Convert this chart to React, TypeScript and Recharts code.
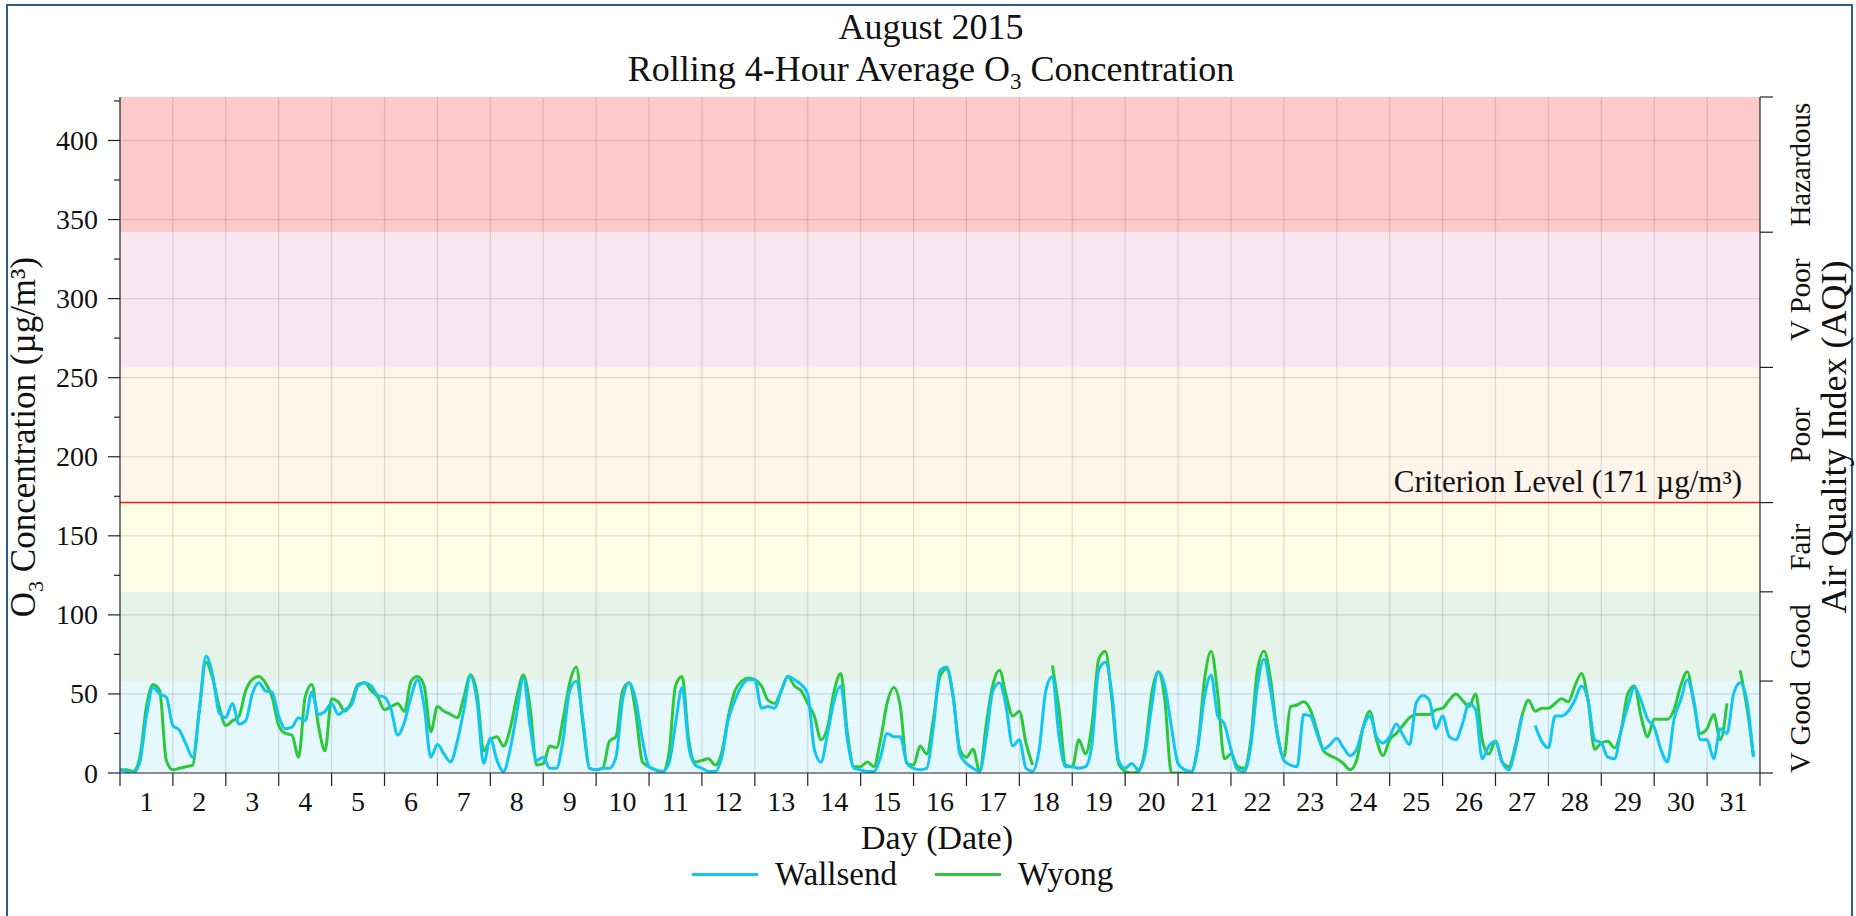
import { LineChart, Line, XAxis, YAxis, ReferenceArea, ReferenceLine } from "recharts";

const FONT = "'Liberation Serif', 'Times New Roman', serif";
const W = 1856;
const H = 916;
// plot box edges in page pixels
const PL = 120;
const PR = 1760;
const PT = 97;
const PB = 773;
const DAY_PX = (PR - PL) / 31;

// rolling 4-hour averages, read every 3 hours (8 per day), µg/m³
const STEP = 3;
const wallsend: (number | null)[] = [
  2, 1, 0, 7, 36, 54, 50, 48,
  30, 27, 18, 10, 40, 74, 62, 38,
  35, 44, 31, 33, 50, 57, 52, 51,
  36, 28, 29, 35, 33, 51, 37, 39,
  44, 37, 40, 43, 55, 57, 55, 49,
  48, 40, 24, 32, 48, 59, 42, 10,
  18, 12, 7, 20, 40, 61, 45, 6,
  22, 8, 1, 15, 38, 60, 30, 8,
  10, 3, 3, 21, 52, 58, 34, 3,
  2, 3, 3, 10, 46, 57, 46, 21,
  4, 2, 1, 6, 31, 54, 17, 5,
  3, 1, 1, 10, 34, 46, 55, 59,
  59, 41, 42, 41, 52, 61, 59, 56,
  50, 15, 7, 25, 46, 55, 21, 3,
  2, 1, 1, 10, 25, 23, 23, 6,
  3, 2, 3, 29, 65, 67, 48, 12,
  6, 3, 1, 23, 52, 57, 42, 17,
  21, 3, 1, 15, 52, 61, 23, 4,
  4, 3, 4, 19, 65, 70, 50, 8,
  3, 6, 2, 12, 42, 64, 55, 29,
  6, 2, 1, 17, 48, 62, 36, 31,
  15, 2, 1, 17, 55, 72, 52, 25,
  8, 5, 4, 37, 36, 25, 15, 18,
  22, 16, 11, 15, 29, 36, 23, 19,
  23, 31, 24, 18, 44, 49, 46, 28,
  36, 23, 21, 31, 44, 40, 9, 17,
  20, 7, 2, 15, 36, null, 30, 20,
  16, 36, 36, 39, 46, 55, 46, 21,
  19, 10, 9, 27, 42, 54, 46, 34,
  29, 15, 7, 34, 46, 59, 46, 21,
  21, 9, 28, 25, 50, 57, 46, 10,
];
const wyong: (number | null)[] = [
  2, 2, 1, 10, 42, 56, 52, 8,
  2, 3, 4, 5, 40, 70, 60, 42,
  30, 33, 36, 52, 59, 61, 57, 48,
  30, 25, 24, 10, 48, 56, 30, 14,
  47, 45, 39, 45, 56, 57, 52, 48,
  40, 42, 44, 39, 58, 61, 55, 26,
  42, 39, 37, 35, 48, 62, 50, 14,
  21, 23, 17, 28, 48, 62, 42, 5,
  6, 17, 16, 34, 57, 67, 31, 3,
  2, 3, 20, 23, 52, 57, 38, 7,
  4, 2, 0, 12, 55, 61, 21, 7,
  8, 9, 5, 13, 36, 52, 58, 60,
  59, 55, 46, 44, 52, 61, 55, 52,
  44, 36, 21, 29, 52, 63, 25, 4,
  4, 7, 4, 21, 44, 54, 42, 6,
  5, 17, 12, 34, 61, 66, 48, 15,
  10, 15, 1, 31, 56, 65, 49, 36,
  39, 19, 5, null, null, 68, 40, 5,
  4, 21, 12, 31, 72, 77, 46, 6,
  1, 0, 1, 15, 50, 64, 46, 0,
  0, 0, 0, 17, 59, 77, 50, 9,
  12, 4, 3, 21, 65, 77, 59, 25,
  10, 42, 43, 45, 40, 27, 14, 11,
  9, 6, 2, 8, 29, 39, 21, 11,
  21, 25, 30, 35, 37, 37, 37, 40,
  41, 46, 50, 46, 42, 50, 21, 12,
  20, 7, 4, 17, 36, 46, 39, 41,
  41, 44, 47, 45, 55, 63, 46, 15,
  19, 20, 16, 27, 50, 55, 36, 23,
  34, 34, 34, 40, 55, 64, 44, 25,
  28, 37, 21, 44, null, 65, 42, 11,
];

const dayEdges = Array.from({ length: 32 }, (_, i) => i * 24);
const leftTicks = Array.from({ length: 18 }, (_, i) => i * 25);
const majorGrid = [50, 100, 150, 200, 250, 300, 350, 400];
const Y_MAX = 427.5;
const CRITERION = 171;

// AQI bands (fraction of the 171 µg/m³ criterion)
const bandNames = ["V Good", "Good", "Fair", "Poor", "V Poor", "Hazardous"];
const bandEdges = [0, 58.14, 114.57, 171, 256.5, 342, 427.5];
const bandFills = ["#e4f8fd", "#e6f3e9", "#fefee6", "#fef4ea", "#fae6ef", "#fdc9c9"];
const bandMids = bandNames.map((_, i) => (bandEdges[i] + bandEdges[i + 1]) / 2);

const rows = wallsend.map((v, i) => ({ h: i * STEP, wallsend: v, wyong: wyong[i] }));

const BLUE = "#12c5f3";
const GREEN = "#2dc83a";
const txt = { fontFamily: FONT, fontSize: 28, fill: "#111" };

function DayTick({ x, y, payload }: any) {
  const d = Math.round(payload.value / 24);
  return (
    <g>
      <line x1={x} x2={x} y1={y} y2={y + 13} stroke="#222" strokeWidth={1.2} />
      {d < 31 && (
        <text {...txt} x={x + DAY_PX / 2} y={y + 28} textAnchor="middle" dominantBaseline="central">
          {d + 1}
        </text>
      )}
    </g>
  );
}

function LeftTick({ x, y, payload }: any) {
  const major = payload.value % 50 === 0;
  return (
    <g>
      <line x1={x - (major ? 12 : 6)} x2={x} y1={y} y2={y} stroke="#222" strokeWidth={1.2} />
      {major && (
        <text {...txt} x={x - 22} y={y} textAnchor="end" dominantBaseline="central">
          {payload.value}
        </text>
      )}
    </g>
  );
}

function RightTick({ x, y, payload }: any) {
  const i = bandMids.indexOf(payload.value);
  if (i >= 0) {
    return (
      <text {...txt} fontSize={29} x={x + 40} y={y} textAnchor="middle" dominantBaseline="central" transform={`rotate(-90 ${x + 40} ${y})`}>
        {bandNames[i]}
      </text>
    );
  }
  return <line x1={x} x2={x + 13} y1={y} y2={y} stroke="#222" strokeWidth={1.2} />;
}

function CriterionLabel({ viewBox }: any) {
  return (
    <text {...txt} fontSize={31} x={viewBox.x + viewBox.width - 18} y={viewBox.y - 11} textAnchor="end">
      Criterion Level (171 µg/m³)
    </text>
  );
}

const abs = (left: number, top: number, extra: any = {}) => ({
  position: "absolute" as const,
  left,
  top,
  fontFamily: FONT,
  fontSize: 34,
  color: "#111",
  whiteSpace: "nowrap" as const,
  lineHeight: 1,
  ...extra,
});

export default function App() {
  return (
    <div style={{ position: "absolute", left: 0, top: 0, width: W, height: H, background: "#fff", overflow: "hidden" }}>
      <div style={{ position: "absolute", left: 6, top: 4, width: W - 13, height: H, border: "2px solid #2b5d8b", borderBottom: "none" }} />
      <LineChart width={W} height={H} data={rows} margin={{ top: PT, right: W - PR - 60, bottom: H - PB - 40, left: PL - 60 }}>
        <XAxis
          dataKey="h"
          type="number"
          domain={[0, 744]}
          ticks={dayEdges}
          interval={0}
          tick={<DayTick />}
          tickLine={false}
          tickSize={0}
          tickMargin={0}
          height={40}
          axisLine={{ stroke: "#222", strokeWidth: 1.2 }}
        />
        <YAxis
          type="number"
          domain={[0, Y_MAX]}
          ticks={leftTicks}
          interval={0}
          tick={<LeftTick />}
          tickLine={false}
          tickSize={0}
          tickMargin={0}
          width={60}
          allowDataOverflow
          axisLine={{ stroke: "#222", strokeWidth: 1.2 }}
        />
        <YAxis
          yAxisId="r"
          orientation="right"
          type="number"
          domain={[0, Y_MAX]}
          ticks={[...bandEdges, ...bandMids]}
          interval={0}
          tick={<RightTick />}
          tickLine={false}
          tickSize={0}
          tickMargin={0}
          width={60}
          allowDataOverflow
          axisLine={{ stroke: "#222", strokeWidth: 1.2 }}
        />
        {bandNames.map((n, i) => (
          <ReferenceArea key={n} y1={bandEdges[i]} y2={bandEdges[i + 1]} fill={bandFills[i]} fillOpacity={1} stroke="none" ifOverflow="visible" />
        ))}
        {majorGrid.map((v) => (
          <ReferenceLine key={"gy" + v} y={v} stroke="#000" strokeOpacity={0.12} strokeWidth={1.2} />
        ))}
        {dayEdges.slice(1, 31).map((v) => (
          <ReferenceLine key={"gx" + v} x={v} stroke="#000" strokeOpacity={0.12} strokeWidth={1.2} />
        ))}
        <ReferenceLine y={CRITERION} stroke="#ff1a1a" strokeWidth={1.5} label={<CriterionLabel />} />
        <Line dataKey="wyong" type="monotone" stroke={GREEN} strokeWidth={3} dot={false} isAnimationActive={false} />
        <Line dataKey="wallsend" type="monotone" stroke={BLUE} strokeWidth={3} dot={false} isAnimationActive={false} />
      </LineChart>

      <div style={abs(931, 27, { transform: "translate(-50%,-50%)", fontSize: 36 })}>August 2015</div>
      <div style={abs(931, 72, { transform: "translate(-50%,-50%)", fontSize: 36 })}>
        Rolling 4-Hour Average O<sub style={{ fontSize: 23 }}>3</sub> Concentration
      </div>
      <div style={abs(26, 437, { transform: "translate(-50%,-50%) rotate(-90deg)", fontSize: 35 })}>
        O<sub style={{ fontSize: 22 }}>3</sub> Concentration (µg/m³)
      </div>
      <div style={abs(1834, 437, { transform: "translate(-50%,-50%) rotate(-90deg)", fontSize: 36 })}>Air Quality Index (AQI)</div>
      <div style={abs(937, 838, { transform: "translate(-50%,-50%)" })}>Day (Date)</div>

      <div style={{ position: "absolute", left: 692, top: 873, width: 66, borderTop: `3px solid ${BLUE}` }} />
      <div style={abs(775, 874, { transform: "translateY(-50%)", fontSize: 33 })}>Wallsend</div>
      <div style={{ position: "absolute", left: 935, top: 873, width: 66, borderTop: `3px solid ${GREEN}` }} />
      <div style={abs(1018, 874, { transform: "translateY(-50%)", fontSize: 33 })}>Wyong</div>
    </div>
  );
}
